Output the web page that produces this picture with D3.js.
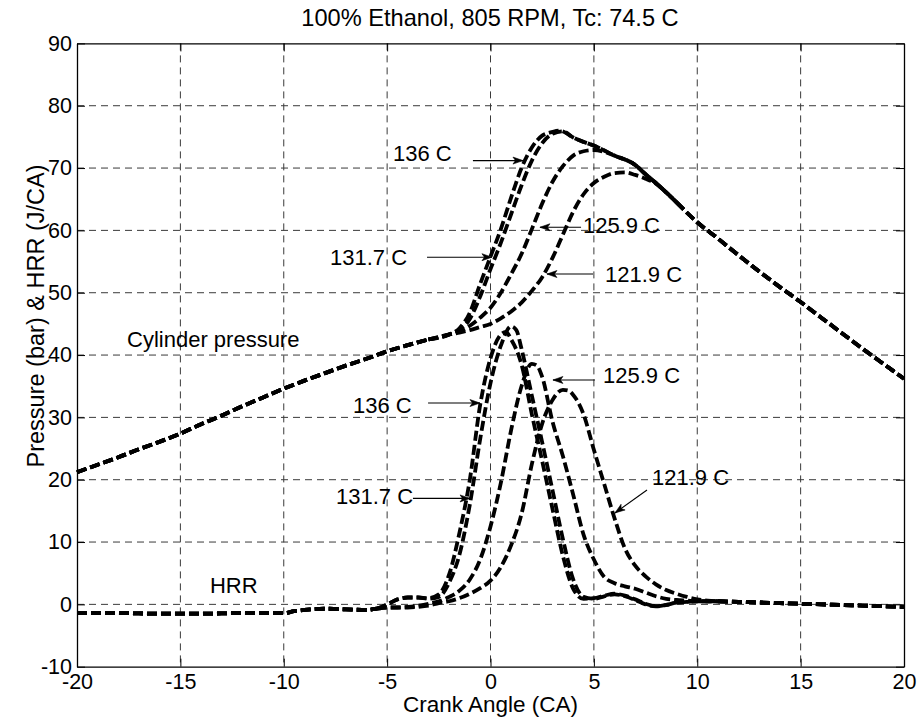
<!DOCTYPE html>
<html>
<head>
<meta charset="utf-8">
<script src="https://cdn.jsdelivr.net/npm/d3@7"></script>
<style>
  html, body { margin: 0; padding: 0; background: #ffffff; }
  svg { display: block; }
  text { font-family: "Liberation Sans", Arial, Helvetica, sans-serif; fill: #000; }
</style>
</head>
<body>
<svg id="chart" width="921" height="721"></svg>
<script>
// ---------------- data ----------------
const titleText = "100% Ethanol, 805 RPM, Tc: 74.5 C";
const xLabelText = "Crank Angle (CA)";
const yLabelText = "Pressure (bar) & HRR (J/CA)";
const xTicks = [-20, -15, -10, -5, 0, 5, 10, 15, 20];
const yTicks = [-10, 0, 10, 20, 30, 40, 50, 60, 70, 80, 90];
const seriesNames = ["136 C", "131.7 C", "125.9 C", "121.9 C"];

// cylinder pressure: shared compression part, per-case combustion part, shared expansion part
const pressureHead = [[-20,21.2],[-19,22.4],[-18,23.6],[-17,24.9],[-16,26.1],[-15,27.4],[-14,28.9],[-13,30.3],[-12,31.8],[-11,33.2],[-10,34.6],[-9,35.9],[-8,37.1],[-7,38.3],[-6,39.4],[-5,40.6],[-4,41.6],[-3,42.5]];
const pressure136 = [[-2,43.3],[-1.5,44.3],[-1,46.8],[-0.5,51.4],[0,55.8],[0.5,60.2],[1,65.3],[1.5,70],[2,73.3],[2.5,75.2],[3,75.8],[3.35,76],[4,74.9],[4.5,74.2],[5,73.6],[6,72.0]];
const pressure131 = [[-2,43.3],[-1.5,44.0],[-1,45.8],[-0.5,49.4],[0,53.8],[0.5,58.0],[1,62.6],[1.5,67.2],[2,71.2],[2.5,74.0],[3,75.5],[3.5,75.9],[4,74.9],[4.5,74.2],[5,73.6],[6,72.0]];
const pressure125 = [[-2,43.3],[-1.5,43.8],[-1,44.7],[-0.5,46.0],[0,47.6],[0.5,50],[1,53],[1.5,56.2],[2,60.2],[2.5,64.3],[3,67.8],[3.5,70.3],[4,72],[4.5,72.7],[5,72.9],[5.5,72.6],[6,72.0]];
const pressure121 = [[-2,43.3],[-1.5,43.6],[-1,44.0],[-0.5,44.5],[0,45.0],[0.5,45.9],[1,47.0],[1.5,48.4],[2,50.3],[2.5,52.5],[3,55.6],[3.5,59.3],[4,63.0],[4.5,65.8],[5,67.6],[5.5,68.6],[6,69.2],[6.5,69.3],[7,68.9],[7.5,68.3],[8,67.5],[8.5,66.1]];
const pressureTail = [[7,70.5],[7.5,69.0],[8,67.6],[9,64.5],[10,61.3],[11,58.7],[12,56.0],[13,53.4],[14,50.9],[15,48.5],[16,46.0],[17,43.5],[18,41.0],[19,38.6],[20,36.2]];

// heat release rate
const hrrHead = [[-20,-1.4],[-18,-1.4],[-16,-1.5],[-14,-1.5],[-12,-1.4],[-10,-1.4],[-9.5,-1.1],[-9,-0.9],[-8,-0.7],[-7,-0.8],[-6,-0.9],[-5.5,-0.7]];
const hrr136 = [[-5,0.0],[-4.5,0.8],[-4,1.1],[-3.5,1.1],[-3,1.0],[-2.5,1.6],[-2,4.8],[-1.5,11.5],[-1,20],[-0.5,32],[0,39.5],[0.5,43.3],[0.75,43.7],[1,42.5],[1.5,38.5],[2,30.5],[2.5,23],[3,15.3],[3.5,7.8],[4,2.5],[4.5,0.9],[5,1.0],[5.5,1.4],[6,1.7],[6.5,1.4],[7,0.8],[7.5,0.1],[8,-0.3],[8.5,-0.1],[9,0.3],[9.5,0.4]];
const hrr131 = [[-5,0.0],[-4.5,0.8],[-4,1.1],[-3.5,1.1],[-3,0.9],[-2.5,1.2],[-2,3.5],[-1.5,8],[-1,16],[-0.5,26.5],[0,35.5],[0.5,41.5],[1,44.6],[1.25,44.0],[1.5,41],[2,33.5],[2.5,26],[3,18.3],[3.5,10.5],[4,4],[4.5,1.2],[5,0.9],[5.5,1.3],[6,1.6],[6.5,1.3],[7,0.7],[7.5,0],[8,-0.3],[8.5,-0.1],[9,0.3],[9.5,0.4]];
const hrr125 = [[-5,-0.5],[-4.5,-0.5],[-4,-0.4],[-3.5,-0.2],[-3,0.1],[-2.5,0.5],[-2,1.2],[-1.5,2.2],[-1,4.0],[-0.5,7.2],[0,12.5],[0.5,19.5],[1,28],[1.5,35],[2,38.6],[2.25,38.3],[2.5,36.5],[3,29.3],[3.5,23.8],[4,17.6],[4.5,11.2],[5,7.2],[5.5,4.4],[6,3.4],[6.5,2.9],[7,2.5],[7.5,1.9],[8,1.3],[8.5,0.9],[9,0.7],[9.5,0.6]];
const hrr121 = [[-5,-0.5],[-4.5,-0.5],[-4,-0.5],[-3.5,-0.4],[-3,-0.2],[-2.5,0.2],[-2,0.5],[-1.5,1.0],[-1,1.7],[-0.5,2.6],[0,3.8],[0.5,6.0],[1,9.5],[1.5,14.5],[2,22.5],[2.5,29],[3,32.8],[3.5,34.4],[3.75,34.3],[4,33.6],[4.5,30.5],[5,24.8],[5.5,19.3],[6,13.8],[6.5,9.0],[7,6.2],[7.5,4.5],[8,3.2],[8.5,2.3],[9,1.7],[9.5,1.2],[10,0.8],[10.5,0.6]];
const hrrTail = [[10,0.5],[11,0.5],[12,0.4],[13,0.3],[14,0.2],[15,0.1],[16,0.0],[17,-0.1],[18,-0.2],[19,-0.3],[20,-0.4]];

// text annotations (anchored in data coordinates)
const annotations = [
  { text: "136 C",   at: [-4.72, 71.1], from: [-0.85, 71.2], to: [1.57, 71.2] },
  { text: "125.9 C", at: [4.47, 59.6],  from: [4.38, 60.5],  to: [2.39, 60.5] },
  { text: "131.7 C", at: [-7.76, 54.4], from: [-3.07, 55.7], to: [0.07, 55.7] },
  { text: "121.9 C", at: [5.54, 51.7],  from: [4.96, 53.0],  to: [2.73, 53.0] },
  { text: "Cylinder pressure", at: [-17.58, 41.3] },
  { text: "136 C",   at: [-6.65, 30.7], from: [-3.02, 32.3], to: [-0.51, 32.3] },
  { text: "131.7 C", at: [-7.47, 16.1], from: [-3.75, 17.0], to: [-0.99, 17.0] },
  { text: "125.9 C", at: [5.44, 35.5],  from: [5.05, 36.0],  to: [3.02, 36.0] },
  { text: "121.9 C", at: [7.81, 19.2],  from: [7.57, 18.35], to: [6.02, 14.67] },
  { text: "HRR",     at: [-13.57, 1.8] }
];

// ---------------- build ----------------
// each case = shared head + its own combustion part + shared tail; drawn as three pieces
// so that the coinciding shared parts keep the same dash phase
function pieces(head, mid, tail, tailFrom) {
  const a = mid[0][0], b = mid[mid.length - 1][0];
  const h = head.filter(d => d[0] < a);
  return [
    h,
    [h[h.length - 1]].concat(mid, tail.filter(d => d[0] > b && d[0] <= tailFrom)),
    tail.filter(d => d[0] >= tailFrom)
  ];
}
const pressurePieces = [pressure136, pressure131, pressure125, pressure121]
  .flatMap(m => pieces(pressureHead, m, pressureTail, 9));
const hrrPieces = [hrr136, hrr131, hrr125, hrr121]
  .flatMap(m => pieces(hrrHead, m, hrrTail, 11));

const svg = d3.select("#chart");
svg.append("rect").attr("width", 921).attr("height", 721).attr("fill", "#fff");

const plotLeft = 77, plotRight = 904, plotTop = 43.4, plotBottom = 666.7;
const x = d3.scaleLinear().domain([-20, 20]).range([plotLeft, plotRight]);
const y = d3.scaleLinear().domain([-10, 90]).range([plotBottom, plotTop]);

// grid
const grid = svg.append("g").attr("stroke", "#3a3a3a").attr("stroke-width", 1).attr("stroke-dasharray", "7,5");
grid.selectAll("line.vx").data(xTicks.slice(1, -1)).join("line")
  .attr("x1", d => x(d)).attr("x2", d => x(d)).attr("y1", plotTop).attr("y2", plotBottom);
grid.selectAll("line.hy").data(yTicks.slice(1, -1)).join("line")
  .attr("y1", d => y(d)).attr("y2", d => y(d)).attr("x1", plotLeft).attr("x2", plotRight);

// curves
const line = d3.line().x(d => x(d[0])).y(d => y(d[1])).curve(d3.curveMonotoneX);
const curves = svg.append("g").attr("fill", "none").attr("stroke", "#000")
  .attr("stroke-width", 3.8).attr("stroke-dasharray", "10,4").attr("stroke-linecap", "butt")
  .attr("stroke-linejoin", "round");
curves.selectAll("path.p").data(pressurePieces).join("path").attr("class", "p").attr("d", line);
curves.selectAll("path.h").data(hrrPieces).join("path").attr("class", "h").attr("d", line);

// axes
const tickFont = "21.5px";
const fmt = d => String(d);
const axB = svg.append("g").attr("transform", `translate(0,${plotBottom})`)
  .call(d3.axisBottom(x).tickValues(xTicks).tickFormat(fmt).tickSizeInner(-8).tickSizeOuter(0).tickPadding(7));
const axT = svg.append("g").attr("transform", `translate(0,${plotTop})`)
  .call(d3.axisTop(x).tickValues(xTicks).tickSizeInner(-8).tickSizeOuter(0).tickFormat(""));
const axL = svg.append("g").attr("transform", `translate(${plotLeft},0)`)
  .call(d3.axisLeft(y).tickValues(yTicks).tickFormat(fmt).tickSizeInner(-8).tickSizeOuter(0).tickPadding(5));
const axR = svg.append("g").attr("transform", `translate(${plotRight},0)`)
  .call(d3.axisRight(y).tickValues(yTicks).tickSizeInner(-8).tickSizeOuter(0).tickFormat(""));
[axB, axT, axL, axR].forEach(g => {
  g.select(".domain").attr("stroke", "#000").attr("stroke-width", 1.3);
  g.selectAll(".tick line").attr("stroke", "#000").attr("stroke-width", 1);
  g.selectAll("text").attr("font-size", tickFont).attr("fill", "#000")
    .attr("font-family", "'Liberation Sans', Arial, sans-serif");
});

// titles
svg.append("text").attr("x", 490).attr("y", 26).attr("text-anchor", "middle")
  .attr("font-size", "23.6px").text(titleText);
svg.append("text").attr("x", 490.5).attr("y", 712).attr("text-anchor", "middle")
  .attr("font-size", "22.5px").text(xLabelText);
svg.append("text").attr("transform", "translate(44,316) rotate(-90)").attr("text-anchor", "middle")
  .attr("font-size", "23.5px").text(yLabelText);

// annotations
const ann = svg.append("g");
annotations.forEach(a => {
  ann.append("text").attr("x", x(a.at[0])).attr("y", y(a.at[1]))
    .attr("font-size", "22px").text(a.text);
  if (a.from) {
    const x1 = x(a.from[0]), y1 = y(a.from[1]), x2 = x(a.to[0]), y2 = y(a.to[1]);
    ann.append("line").attr("x1", x1).attr("y1", y1).attr("x2", x2).attr("y2", y2)
      .attr("stroke", "#000").attr("stroke-width", 1.1);
    const ang = Math.atan2(y2 - y1, x2 - x1);
    const L = 10, W = 3.5, N = 7.5;
    const pt = (dl, dw) => [x2 - dl * Math.cos(ang) - dw * Math.sin(ang), y2 - dl * Math.sin(ang) + dw * Math.cos(ang)];
    const head = [[x2, y2], pt(L, W), pt(N, 0), pt(L, -W)];
    ann.append("path").attr("d", "M" + head.map(p => p.join(",")).join("L") + "Z")
      .attr("fill", "#000").attr("stroke", "#000").attr("stroke-width", 0.6);
  }
});
</script>
</body>
</html>
